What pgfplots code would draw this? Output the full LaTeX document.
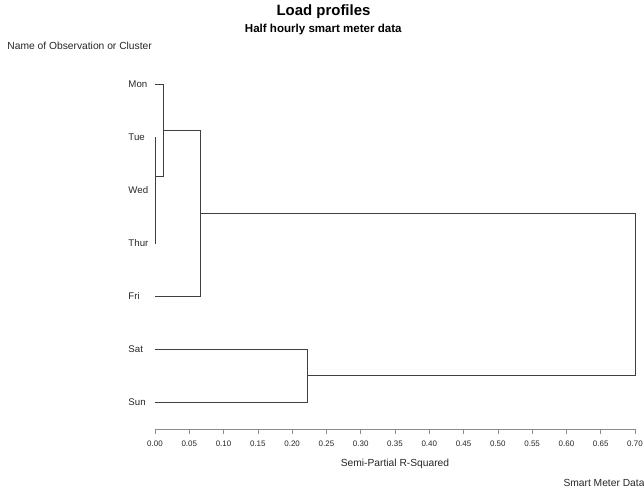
\documentclass[border=0pt]{standalone}
\usepackage{fontspec}
\setmainfont{Liberation Sans}
\usepackage{pgfplots}
\pgfplotsset{compat=1.18}
\begin{document}
\begin{tikzpicture}
\useasboundingbox (-155bp,-60bp) rectangle (489bp,429bp);
\begin{axis}[
  at={(0,0)}, anchor=south west,
  scale only axis, width=480bp, height=371.5bp,
  xmin=0, xmax=0.70, ymin=0.5, ymax=7.51, y dir=reverse,
  clip=false,
  axis x line*=bottom, axis y line*=left,
  y axis line style={draw=none},
  x axis line style={black!45, line width=0.6bp, -},
  tick align=outside, major tick length=4.5bp,
  xtick={0,0.05,0.1,0.15,0.2,0.25,0.3,0.35,0.4,0.45,0.5,0.55,0.6,0.65,0.7},
  xtick style={black!45, line width=0.6bp},
  ytick={1,2,3,4,5,6,7},
  yticklabels={Mon,Tue,Wed,Thur,Fri,Sat,Sun},
  ytick style={draw=none},
  /pgf/number format/assume math mode=true,
  xticklabel style={font=\fontsize{8}{9}\selectfont, text=black!85, inner sep=0pt, anchor=north, yshift=-6.9bp,
    /pgf/number format/fixed, /pgf/number format/fixed zerofill, /pgf/number format/precision=2},
  yticklabel style={font=\fontsize{9.7}{11}\selectfont, text=black!85, inner sep=0pt, anchor=west, xshift=-22.2bp},
  xlabel={Semi-Partial R-Squared},
  xlabel style={at={(axis description cs:0.5,0)}, anchor=base, yshift=-37bp, inner sep=0pt,
    font=\fontsize{10.3}{12}\selectfont, text=black!85},
  dend/.style={black!75, line width=0.9bp, no markers, sharp plot},
]
\addplot[dend] coordinates {(0,3) (0.0006,3) (0.0006,4) (0,4)};
\addplot[dend] coordinates {(0,2) (0.0012,2) (0.0012,3.5) (0.0006,3.5)};
\addplot[dend] coordinates {(0,1) (0.0121,1) (0.0121,2.75) (0.0012,2.75)};
\addplot[dend] coordinates {(0.0121,1.875) (0.0656,1.875) (0.0656,5) (0,5)};
\addplot[dend] coordinates {(0,6) (0.223,6) (0.223,7) (0,7)};
\addplot[dend] coordinates {(0.0656,3.4375) (0.70,3.4375) (0.70,6.5) (0.223,6.5)};
\end{axis}
\node[anchor=base, inner sep=0pt, font=\bfseries\fontsize{15}{18}\selectfont] at (168.5bp,413.3bp) {Load profiles};
\node[anchor=base, inner sep=0pt, font=\bfseries\fontsize{11.6}{14}\selectfont] at (168.3bp,396.7bp) {Half hourly smart meter data};
\node[anchor=base west, inner sep=0pt, font=\fontsize{10.3}{12}\selectfont, text=black!85] at (-147.7bp,379.7bp) {Name of Observation or Cluster};
\node[anchor=base west, inner sep=0pt, font=\fontsize{10.3}{12}\selectfont, text=black!85] at (408.3bp,-57bp) {Smart Meter Data};
\end{tikzpicture}
\end{document}
